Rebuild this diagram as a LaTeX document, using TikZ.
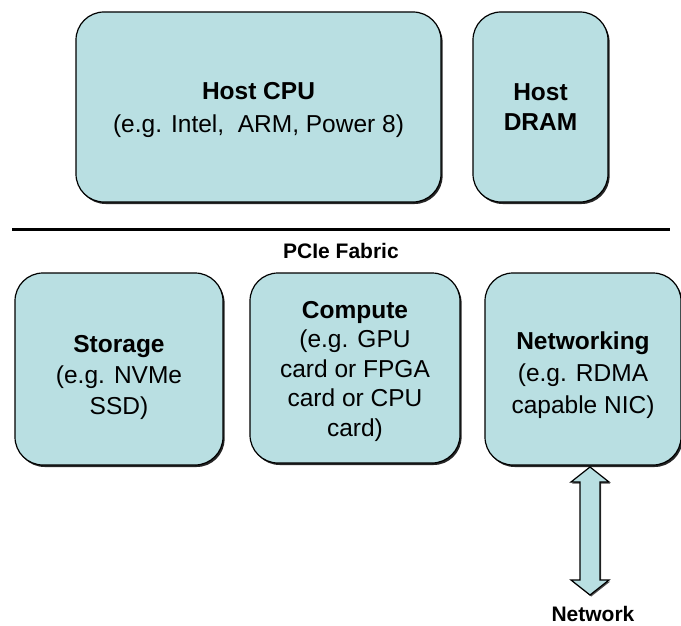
\documentclass[tikz,border=0pt]{standalone}
\usepackage{fontspec}
\setmainfont{Liberation Sans}
\usetikzlibrary{shadows,calc}
\definecolor{boxfill}{RGB}{185,223,226}
% lower a text block without changing the size TikZ sees
\newcommand{\dropby}[2]{\raisebox{-#1}[\height][\depth]{#2}}
\begin{document}
\begin{tikzpicture}[x=1pt,y=-1pt,
  unit/.style={draw=black, line width=1.2pt, fill=boxfill, rounded corners=28pt,
    align=center, inner sep=0pt,
    font=\fontsize{24.5}{30}\selectfont,
    drop shadow={shadow xshift=1.6pt, shadow yshift=-2pt, fill=black, opacity=0.85}},
  caption/.style={font=\fontsize{21}{25}\selectfont\bfseries, inner sep=0pt},
  bus/.style={line width=3pt},
  link/.style={draw=black, line width=1.2pt, fill=boxfill,
    drop shadow={shadow xshift=1.2pt, shadow yshift=-1.5pt, fill=black, opacity=0.7}}]
\useasboundingbox (0,0) rectangle (681,626);
\begin{scope}
\clip (0,0) rectangle (681,626);

% host side
\node[unit, minimum width=365pt, minimum height=190pt] (cpu) at (258.5,107)
  {\dropby{3pt}{\parbox{350pt}{\centering\fontsize{24.5}{33}\selectfont
   \textbf{Host CPU}\\(e.g. Intel,\ \ ARM, Power 8)}}};
\node[unit, minimum width=135pt, minimum height=190pt] (dram) at (540.5,107)
  {\textbf{Host}\\\textbf{DRAM}};

% PCIe fabric
\coordinate (fl) at (12,229);
\coordinate (fr) at (670,229);
\draw[bus] (fl) -- (fr);
\node[caption] (fabric) at (341,251) {PCIe Fabric};

% endpoints on the fabric
\node[unit, minimum width=208pt, minimum height=192pt] (sto) at (119,369)
  {\dropby{8pt}{\parbox{200pt}{\centering\fontsize{24.5}{31}\selectfont
   \textbf{Storage}\\(e.g. NVMe\\SSD)}}};
\node[unit, minimum width=210pt, minimum height=190pt] (cmp) at (355,368)
  {\dropby{3pt}{\parbox{200pt}{\centering\fontsize{24.5}{29.5}\selectfont
   \textbf{Compute}\\(e.g. GPU\\card or FPGA\\card or CPU\\card)}}};
\node[unit, minimum width=196pt, minimum height=192pt] (net) at (583,369)
  {\dropby{6pt}{\parbox{190pt}{\centering\fontsize{24.5}{32}\selectfont
   \textbf{Networking}\\(e.g. RDMA\\capable NIC)}}};

% link to the outside network
\coordinate (at) at (590,467);
\coordinate (ab) at (590,595);
\draw[link] (at) -- ++(19,15) -- ++(-9,0) -- ($(ab)+(10,-15)$) -- ++(9,0)
  -- (ab) -- ++(-19,-15) -- ++(9,0) -- ($(at)+(-10,15)$) -- ++(-9,0) -- cycle;
\node[caption] (network) at (593,614) {Network};
\end{scope}
\end{tikzpicture}
\end{document}
